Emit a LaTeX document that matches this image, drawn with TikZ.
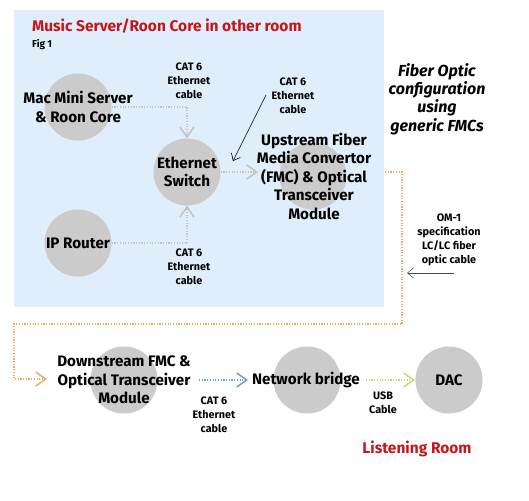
\documentclass[tikz,border=0pt]{standalone}
\usepackage{fontspec}
\setmainfont{Fira Sans}
\usetikzlibrary{arrows.meta}
\definecolor{bgblue}{HTML}{DFEEFA}
\definecolor{disc}{HTML}{CBCBCB}
\definecolor{titlered}{HTML}{C4161C}
\definecolor{fibre}{HTML}{F0A868}
\definecolor{catgray}{HTML}{C2C2C2}
\definecolor{catblue}{HTML}{6A9FC8}
\definecolor{usbgreen}{HTML}{C8D870}
\tikzset{
  discnode/.style={circle,fill=disc,minimum size=67pt,inner sep=0pt},
  bigtxt/.style={font=\bfseries\fontsize{15.2}{18.5}\selectfont,align=center,inner sep=0pt},
  smalltxt/.style={font=\bfseries\fontsize{10.8}{14}\selectfont,align=center,inner sep=0pt},
  redtxt/.style={font=\bfseries\fontsize{15.5}{18}\selectfont,text=titlered,inner sep=0pt},
  wire/.style={line width=1.2pt,dash pattern=on 1.2pt off 1.5pt,
     -{Straight Barb[length=10pt,width=14pt,line width=1.5pt]}},
  pointer/.style={line width=0.6pt,-{Straight Barb[length=6pt,width=10pt,line width=0.6pt]}}
}
\begin{document}
\begin{tikzpicture}[x=1pt,y=-1pt]
\useasboundingbox (0,0) rectangle (529,500);
\fill[bgblue] (14,10) rectangle (384,307);
\node[redtxt,anchor=west] (title) at (32,26) {Music Server/Roon Core in other room};
\node[font=\bfseries\fontsize{10}{12}\selectfont,anchor=west,inner sep=0pt] (fig) at (32,45) {Fig 1};

\node[discnode] (mac) at (78,107) {};
\node[bigtxt] (mact) at (mac) {Mac Mini Server\\\& Roon Core};
\node[discnode] (sw) at (187,172) {};
\node[bigtxt] (swt) at (sw) {Ethernet\\Switch};
\node[discnode] (rt) at (78,243) {};
\node[bigtxt] (rtt) at (rt) {IP Router};
\node[discnode] (up) at (313,176) {};
\node[bigtxt] (upt) at (314,176) {Upstream Fiber\\Media Convertor\\(FMC) \& Optical\\Transceiver\\Module};

\node[discnode] (dn) at (124,380) {};
\node[bigtxt] (dnt) at (124,380) {Downstream FMC \&\\Optical Transceiver\\Module};
\node[discnode] (nb) at (307,380) {};
\node[bigtxt] (nbt) at (306,380) {Network bridge};
\node[discnode] (dac) at (449,380) {};
\node[bigtxt] (dact) at (dac) {DAC};

\node[font=\bfseries\itshape\fontsize{16}{18.3}\selectfont,align=center,inner sep=0pt] (fo) at (437,99) {Fiber Optic\\configuration\\using\\generic FMCs};
\node[redtxt] (lr) at (417,449) {Listening Room};

\node[smalltxt] (l1) at (189,81) {CAT 6\\Ethernet\\cable};
\node[smalltxt] (l2) at (293,96) {CAT 6\\Ethernet\\cable};
\node[smalltxt] (l3) at (189,267) {CAT 6\\Ethernet\\cable};
\node[smalltxt] (l4) at (214,415) {CAT 6\\Ethernet\\cable};
\node[smalltxt] (l5) at (383,403) {USB\\Cable};
\node[smalltxt] (l6) at (449,240) {OM-1\\specification\\LC/LC fiber\\optic cable};

% connectors
\draw[wire,catgray] (mac.east) -| (sw.north);
\draw[wire,catgray] (rt.east) -| (sw.south);
\coordinate (upin) at (258,172);
\draw[wire,catgray] (sw.east) -- (upin);
\coordinate (pstart) at (266,95);
\coordinate (pend) at (233,161);
\draw[pointer,black] (pstart) -- (pend);

\coordinate (fo1) at (385,172);
\coordinate (fo2) at (402,172);
\coordinate (fo3) at (402,324);
\coordinate (fo4) at (14,324);
\coordinate (fo5) at (14,379);
\coordinate (dnin) at (47,379);
\draw[wire,fibre] (fo1) -- (fo2) -- (fo3) -- (fo4) -- (fo5) -- (dnin);

\coordinate (omstart) at (454,273);
\coordinate (omend) at (407,273);
\draw[pointer,black!70] (omstart) -- (omend);

\coordinate (dnout) at (199,380);
\coordinate (nbin) at (248,380);
\draw[wire,catblue] (dnout) -- (nbin);
\coordinate (nbout) at (366,380);
\coordinate (dacin) at (415,380);
\draw[wire,usbgreen] (nbout) -- (dacin);
\end{tikzpicture}
\end{document}
